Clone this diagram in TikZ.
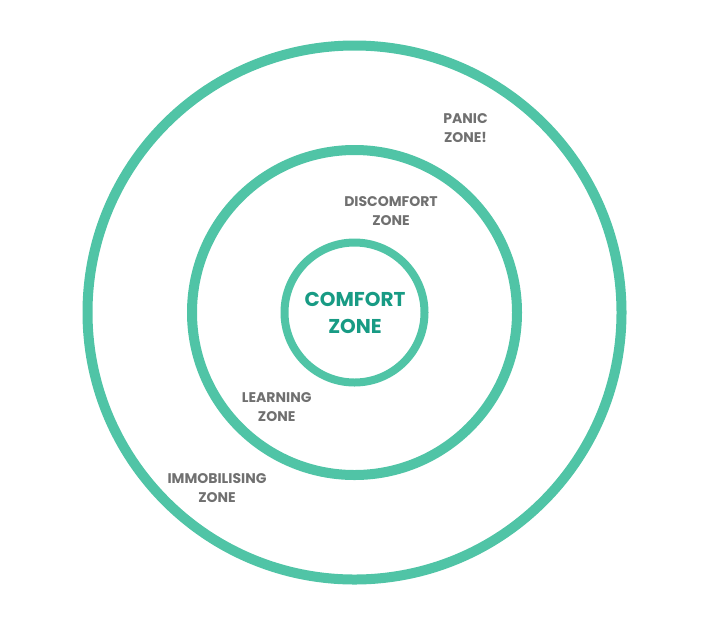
\documentclass[tikz,border=0pt]{standalone}
\usepackage{fontspec}
\setmainfont{Poppins}
\definecolor{ringteal}{RGB}{80,196,166}
\definecolor{coretext}{RGB}{24,155,132}
\definecolor{labelgrey}{RGB}{112,112,112}
\begin{document}
\begin{tikzpicture}[x=1pt,y=-1pt,
  ring/.style={draw=ringteal,line width=10pt},
  zonelabel/.style={text=labelgrey,font=\fontsize{14}{19}\selectfont\bfseries,align=center,inner sep=0pt},
  corelabel/.style={text=coretext,font=\fontsize{20}{27}\selectfont\bfseries,align=center,inner sep=0pt}]
\useasboundingbox (0,0) rectangle (711,622);
\coordinate (c) at (354.5,312.5);
\draw[ring] (c) circle[radius=267];
\draw[ring] (c) circle[radius=162.5];
\draw[ring,line width=8pt] (c) circle[radius=70];
\node[corelabel] (comfort) at (355,313) {COMFORT\\ZONE};
\node[zonelabel] (discomfort) at (391,211.5) {DISCOMFORT\\ZONE};
\node[zonelabel] (panic) at (465.5,128.5) {PANIC\\ZONE!};
\node[zonelabel] (learning) at (276.7,407.5) {LEARNING\\ZONE};
\node[zonelabel] (immob) at (217,488.5) {IMMOBILISING\\ZONE};
\end{tikzpicture}
\end{document}
